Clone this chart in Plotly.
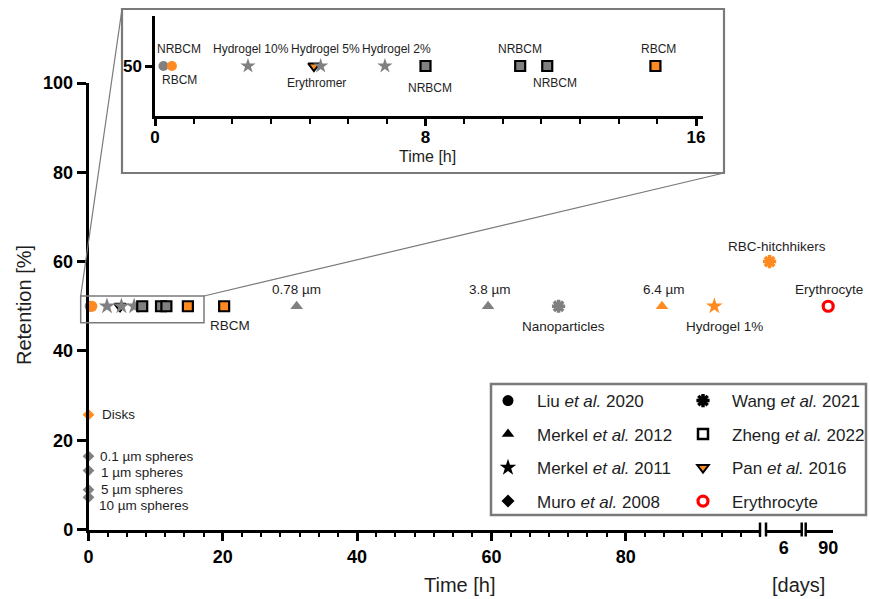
import plotly.graph_objects as go

W, H = 870, 599
ORANGE = "#FF8A1F"
GRAY = "#808080"
RED = "#FF0000"
FONT = "Liberation Sans, Arial, sans-serif"
TXT = "#1e1e1e"

# ---------------- data ----------------
liu_time_h = [0.25, 0.5]
liu_retention = [50, 50]
liu_labels = ["NRBCM", "RBCM"]
liu_rbc = [False, True]

merkel2012_time_h = [31.0, 59.5, 85.4]
merkel2012_retention = [50, 50, 50]
merkel2012_labels = ["0.78 µm", "3.8 µm", "6.4 µm"]
merkel2012_rbc = [False, False, True]

merkel2011_time_h = [2.75, 4.9, 6.8, 93.2]
merkel2011_retention = [50, 50, 50, 50]
merkel2011_labels = ["Hydrogel 10%", "Hydrogel 5%", "Hydrogel 2%", "Hydrogel 1%"]
merkel2011_rbc = [False, False, False, True]

muro_time_h = [0, 0, 0, 0, 0]
muro_retention = [25.7, 16.4, 13.2, 8.9, 7.2]
muro_labels = ["Disks", "0.1 µm spheres", "1 µm spheres", "5 µm spheres", "10 µm spheres"]
muro_rbc = [True, False, False, False, False]

wang_time_h = [70.0]
wang_retention_h = [50]
wang_labels_h = ["Nanoparticles"]
wang_time_days = [5.2]
wang_retention_days = [60]
wang_labels_days = ["RBC-hitchhikers"]

zheng_time_h = [8.0, 10.8, 11.6, 14.8, 20.2]
zheng_retention = [50, 50, 50, 50, 50]
zheng_labels = ["NRBCM", "NRBCM", "NRBCM", "RBCM", "RBCM"]
zheng_rbc = [False, False, False, True, True]

pan_time_h = [4.7]
pan_retention = [50]
pan_labels = ["Erythromer"]

erythrocyte_time_days = [90]
erythrocyte_retention = [50]
erythrocyte_labels = ["Erythrocyte"]

main_x_ticks = [0, 20, 40, 60, 80]
days_ticks_a = [6]
days_ticks_b = [90]
inset_x_ticks = [0, 8, 16]
y_ticks = [0, 20, 40, 60, 80, 100]
inset_y_ticks = [50]

legend_col1 = ["Liu <i>et al.</i> 2020", "Merkel <i>et al.</i> 2012",
               "Merkel <i>et al.</i> 2011", "Muro <i>et al.</i> 2008"]
legend_col2 = ["Wang <i>et al.</i> 2021", "Zheng <i>et al.</i> 2022",
               "Pan <i>et al.</i> 2016", "Erythrocyte"]

# ---------------- helpers ----------------
def fx(p):
    return p / W

def fy(p):
    return 1 - p / H

def col(flags):
    return [ORANGE if f else GRAY for f in flags]

fig = go.Figure()

def add_points(x, y, symbol, colors, size, xa="x", ya="y", line_color=None, line_width=0):
    fig.add_trace(go.Scatter(
        x=x, y=y, mode="markers", xaxis=xa, yaxis=ya, showlegend=False,
        cliponaxis=False, hoverinfo="skip",
        marker=dict(symbol=symbol, color=colors, size=size,
                    line=dict(color=line_color if line_color else colors, width=line_width)),
    ))

# ---- main plot (hours) ----
add_points(muro_time_h, muro_retention, "diamond", col(muro_rbc), 9)
add_points(liu_time_h, liu_retention, "circle", col(liu_rbc), 11)
add_points(pan_time_h, pan_retention, "triangle-down", [ORANGE], 10, line_color="black", line_width=2)
add_points(merkel2011_time_h, merkel2011_retention, "star", col(merkel2011_rbc), 12.5)
add_points(zheng_time_h, zheng_retention, "square", col(zheng_rbc), 10, line_color="black", line_width=2.2)
add_points(merkel2012_time_h, merkel2012_retention, "triangle-up", col(merkel2012_rbc), 11)
add_points(wang_time_h, wang_retention_h, "asterisk", [GRAY], 11, line_color=GRAY, line_width=3.5)
# ---- days segments ----
add_points(wang_time_days, wang_retention_days, "asterisk", [ORANGE], 11, xa="x2",
           line_color=ORANGE, line_width=3.5)
fig.add_trace(go.Scatter(
    x=erythrocyte_time_days, y=erythrocyte_retention, mode="markers", xaxis="x3", yaxis="y",
    showlegend=False, cliponaxis=False, hoverinfo="skip",
    marker=dict(symbol="circle-open", color=RED, size=10, line=dict(color=RED, width=3.2))))

# ---- inset (first 16 h) ----
def sub16(t, r, c):
    idx = [i for i, v in enumerate(t) if v < 16]
    return [t[i] for i in idx], [r[i] for i in idx], [c[i] for i in idx]

tx, ry, cc = sub16(liu_time_h, liu_retention, col(liu_rbc))
add_points(tx, ry, "circle", cc, 10, xa="x4", ya="y4")
tx, ry, cc = sub16(pan_time_h, pan_retention, [ORANGE])
add_points(tx, ry, "triangle-down", cc, 10, xa="x4", ya="y4", line_color="black", line_width=2)
tx, ry, cc = sub16(merkel2011_time_h, merkel2011_retention, col(merkel2011_rbc))
add_points(tx, ry, "star", cc, 11.5, xa="x4", ya="y4")
tx, ry, cc = sub16(zheng_time_h, zheng_retention, col(zheng_rbc))
add_points(tx, ry, "square", cc, 10, xa="x4", ya="y4", line_color="black", line_width=2.2)

# ---- legend entries (black symbols) ----
leg_specs1 = [
    dict(symbol="circle", color="black", size=11, line=dict(width=0)),
    dict(symbol="triangle-up", color="black", size=11, line=dict(width=0)),
    dict(symbol="star", color="black", size=12.5, line=dict(width=0)),
    dict(symbol="diamond", color="black", size=10, line=dict(width=0)),
]
leg_specs2 = [
    dict(symbol="asterisk", color="black", size=11, line=dict(color="black", width=3.5)),
    dict(symbol="square", color="white", size=10, line=dict(color="black", width=2.5)),
    dict(symbol="triangle-down", color=ORANGE, size=10, line=dict(color="black", width=2)),
    dict(symbol="circle-open", color=RED, size=10, line=dict(color=RED, width=3.2)),
]
for i, (name, mk) in enumerate(zip(legend_col1, leg_specs1)):
    fig.add_trace(go.Scatter(x=[None], y=[None], mode="markers", name=name, marker=mk,
                             legend="legend", legendgroup=f"a{i}"))
for i, (name, mk) in enumerate(zip(legend_col2, leg_specs2)):
    fig.add_trace(go.Scatter(x=[None], y=[None], mode="markers", name=name, marker=mk,
                             legend="legend2", legendgroup=f"b{i}"))

# ---------------- annotations ----------------
ann = []

def label(x, y, text, dx, dy, xa="x", ya="y", size=13.5, anchor="center"):
    ann.append(dict(x=x, y=y, xref=xa, yref=ya, text=text, showarrow=False,
                    xshift=dx, yshift=dy, xanchor=anchor, yanchor="middle",
                    font=dict(family=FONT, size=size, color=TXT)))

# main labels
label(zheng_time_h[4], zheng_retention[4], zheng_labels[4], 6, -19)
for i, off in enumerate([(0, 16.5), (2, 16.5), (2, 16.5)]):
    label(merkel2012_time_h[i], merkel2012_retention[i], merkel2012_labels[i], *off)
label(merkel2011_time_h[3], merkel2011_retention[3], merkel2011_labels[3], 10, -20)
label(wang_time_h[0], wang_retention_h[0], wang_labels_h[0], 5, -20)
label(wang_time_days[0], wang_retention_days[0], wang_labels_days[0], 7, 15.5, xa="x2")
label(erythrocyte_time_days[0], erythrocyte_retention[0], erythrocyte_labels[0], 1, 17, xa="x3")
for i, off in enumerate([(11, 0), (9, 0), (10, -1.5), (10, 0), (8, -8.5)]):
    label(muro_time_h[i], muro_retention[i], muro_labels[i], *off, anchor="left")

# inset labels
isz = 12
label(liu_time_h[0], liu_retention[0], liu_labels[0], 16, 17, "x4", "y4", isz)
label(liu_time_h[1], liu_retention[1], liu_labels[1], 8, -14, "x4", "y4", isz)
for i, off in enumerate([(3, 17), (5, 17), (12, 17)]):
    label(merkel2011_time_h[i], merkel2011_retention[i], merkel2011_labels[i], *off, "x4", "y4", isz)
label(pan_time_h[0], pan_retention[0], pan_labels[0], 3, -17, "x4", "y4", isz)
for i, off in enumerate([(4, -22), (0, 17), (8, -17), (3, 17)]):
    label(zheng_time_h[i], zheng_retention[i], zheng_labels[i], *off, "x4", "y4", isz)

# axis titles
def ptext(xp, yp, text, size, angle=0):
    ann.append(dict(x=fx(xp), y=fy(yp), xref="paper", yref="paper", text=text, showarrow=False,
                    xanchor="center", yanchor="middle", textangle=angle,
                    font=dict(family=FONT, size=size, color=TXT)))

ptext(460, 585, "Time [h]", 20)
ptext(798, 585, "[days]", 20)
ptext(24, 305, "Retention [%]", 20, -90)
ptext(427, 156, "Time [h]", 16)

# ---------------- shapes ----------------
shapes = []
LGRAY = "#7a7a7a"

def pline(x0, y0, x1, y1, color, width):
    shapes.append(dict(type="line", xref="paper", yref="paper", x0=fx(x0), y0=fy(y0),
                       x1=fx(x1), y1=fy(y1), line=dict(color=color, width=width)))

def prect(x0, y0, x1, y1, color, width):
    shapes.append(dict(type="rect", xref="paper", yref="paper", x0=fx(x0), y0=fy(y0),
                       x1=fx(x1), y1=fy(y1), line=dict(color=color, width=width),
                       fillcolor="rgba(0,0,0,0)"))

prect(122, 9, 724, 173, LGRAY, 2.2)           # inset frame
prect(80.7, 296, 204, 322.7, LGRAY, 1.5)      # zoom region
pline(80.7, 296, 122, 9, LGRAY, 1.2)
pline(204, 296, 724, 173, LGRAY, 1.2)
prect(491, 384, 866, 515, LGRAY, 2.5)         # legend frame
for bx in [760, 766, 801.7, 805.7]:           # axis break bars
    pline(bx, 522.5, bx, 536.5, "black", 2.5)

# ---------------- layout ----------------
tickfont = dict(family=FONT, size=18, color="black", weight="bold")
inset_tickfont = dict(family=FONT, size=17, color="black", weight="bold")
axis_common = dict(showline=True, linecolor="black", linewidth=2.5, showgrid=False,
                   zeroline=False, ticks="outside", tickcolor="black", tickwidth=2.5,
                   fixedrange=True, automargin=False)

main_xd = [fx(88.5), fx(760)]
main_yd = [fy(529.5), fy(83)]

fig.update_layout(
    width=W, height=H, margin=dict(l=0, r=0, t=0, b=0, pad=0, autoexpand=False),
    paper_bgcolor="white", plot_bgcolor="rgba(0,0,0,0)",
    font=dict(family=FONT, color=TXT),
    xaxis=dict(**axis_common, tickfont=tickfont, domain=main_xd, range=[0, 100], anchor="y",
               tickmode="array", tickvals=main_x_ticks, ticklen=9,
               minor=dict(dtick=20 / 7, tick0=0, ticklen=5, tickwidth=2,
                          tickcolor="black", ticks="outside", showgrid=False)),
    yaxis=dict(**axis_common, tickfont=tickfont, domain=main_yd, range=[0, 100], anchor="x",
               tickmode="array", tickvals=y_ticks, ticklen=9),
    xaxis2=dict(**axis_common, tickfont=tickfont, domain=[fx(766), fx(801.7)], range=[5, 7],
                anchor="y", tickmode="array", tickvals=days_ticks_a, ticklen=0),
    xaxis3=dict(**axis_common, tickfont=tickfont, domain=[fx(805.7), fx(832.7)], range=[80, 92],
                anchor="y", tickmode="array", tickvals=days_ticks_b, ticklen=0),
    xaxis4=dict(**axis_common, tickfont=inset_tickfont, domain=[fx(155), fx(703)],
                range=[0, 16 * 548 / 541], anchor="y4",
                tickmode="array", tickvals=inset_x_ticks, ticklen=7, ticklabelstandoff=-3,
                minor=dict(dtick=8 / 7, tick0=0, ticklen=5, tickwidth=2,
                           tickcolor="black", ticks="outside", showgrid=False)),
    yaxis4=dict(**axis_common, tickfont=inset_tickfont, domain=[fy(116), fy(16)], range=[0, 100],
                anchor="x4", tickmode="array", tickvals=inset_y_ticks, ticklen=7),
    legend=dict(x=fx(479), y=fy(383), xanchor="left", yanchor="top",
                bgcolor="rgba(0,0,0,0)", borderwidth=0, itemwidth=48, tracegroupgap=8.4,
                font=dict(family=FONT, size=17, color=TXT), itemclick=False),
    legend2=dict(x=fx(674), y=fy(383), xanchor="left", yanchor="top",
                 bgcolor="rgba(0,0,0,0)", borderwidth=0, itemwidth=48, tracegroupgap=8.4,
                 font=dict(family=FONT, size=17, color=TXT), itemclick=False),
    annotations=ann,
    shapes=shapes,
)

fig.write_html("out.html", config={"displayModeBar": False},
               post_script="document.body.style.margin='0';document.body.style.overflow='hidden';")
